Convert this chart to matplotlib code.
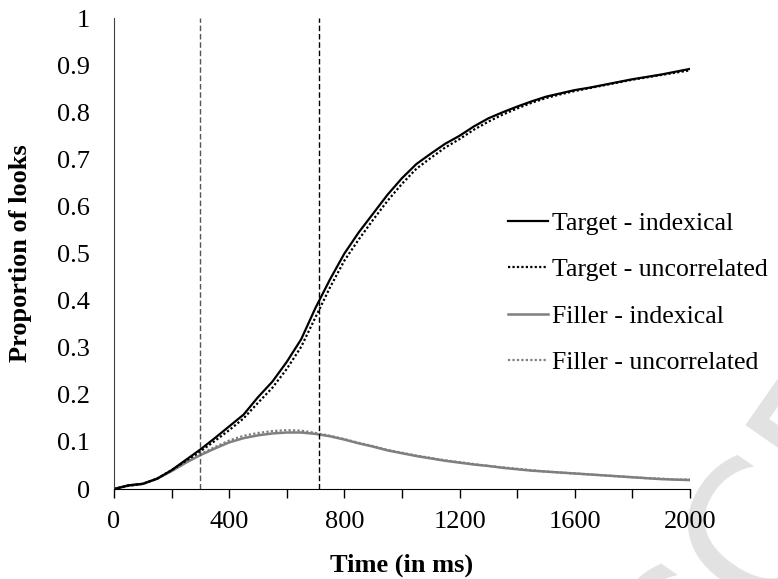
import matplotlib
matplotlib.use("Agg")
import matplotlib.pyplot as plt

# time axis (ms)
time_ms = [0, 50, 100, 150, 200, 250, 300, 350, 400, 450, 500, 550, 600, 650, 700,
           750, 800, 850, 900, 950, 1000, 1050, 1100, 1150, 1200, 1250, 1300, 1350,
           1400, 1450, 1500, 1550, 1600, 1650, 1700, 1750, 1800, 1850, 1900, 1950, 2000]

target_indexical = [0.0, 0.008, 0.011, 0.022, 0.040, 0.062, 0.084, 0.108, 0.133, 0.158,
                    0.195, 0.228, 0.270, 0.318, 0.385, 0.445, 0.500, 0.545, 0.585, 0.625,
                    0.660, 0.690, 0.712, 0.733, 0.750, 0.770, 0.787, 0.800, 0.812, 0.823,
                    0.833, 0.840, 0.847, 0.852, 0.858, 0.864, 0.870, 0.875, 0.880, 0.886, 0.892]

target_uncorrelated = [0.0, 0.007, 0.011, 0.022, 0.040, 0.060, 0.080, 0.102, 0.125, 0.150,
                       0.183, 0.215, 0.255, 0.302, 0.365, 0.428, 0.485, 0.530, 0.572, 0.612,
                       0.648, 0.680, 0.703, 0.725, 0.743, 0.763, 0.780, 0.795, 0.808, 0.820,
                       0.830, 0.838, 0.845, 0.851, 0.857, 0.863, 0.869, 0.874, 0.879, 0.884, 0.889]

filler_indexical = [0.0, 0.007, 0.011, 0.022, 0.038, 0.056, 0.072, 0.086, 0.099, 0.108,
                    0.114, 0.118, 0.120, 0.120, 0.117, 0.112, 0.105, 0.097, 0.090, 0.082,
                    0.076, 0.070, 0.065, 0.060, 0.056, 0.052, 0.049, 0.045, 0.042, 0.039,
                    0.037, 0.035, 0.033, 0.031, 0.029, 0.027, 0.025, 0.023, 0.021, 0.020, 0.019]

filler_uncorrelated = [0.0, 0.007, 0.011, 0.022, 0.039, 0.058, 0.074, 0.089, 0.103, 0.113,
                       0.119, 0.123, 0.125, 0.124, 0.119, 0.113, 0.106, 0.098, 0.091, 0.083,
                       0.077, 0.071, 0.066, 0.061, 0.057, 0.053, 0.049, 0.046, 0.043, 0.040,
                       0.037, 0.035, 0.033, 0.031, 0.029, 0.027, 0.025, 0.023, 0.022, 0.020, 0.020]

# vertical markers (ms)
markers = [300, 712]

x_ticks = [0, 200, 400, 600, 800, 1000, 1200, 1400, 1600, 1800, 2000]
x_labels = ["0", "", "400", "", "800", "", "1200", "", "1600", "", "2000"]
y_ticks = [0, 0.1, 0.2, 0.3, 0.4, 0.5, 0.6, 0.7, 0.8, 0.9, 1]
y_labels = ["0", "0.1", "0.2", "0.3", "0.4", "0.5", "0.6", "0.7", "0.8", "0.9", "1"]

plt.rcParams["font.family"] = ["Liberation Serif", "DejaVu Serif"]

fig = plt.figure(figsize=(7.78, 5.79), dpi=100)
ax = fig.add_axes([0.1465, 0.1554, 0.7404, 0.8135])
ax.patch.set_visible(False)

# watermark, behind everything
fig.text(0.802, -0.449, "ACCEPTED", rotation=55, rotation_mode="anchor",
         ha="left", va="baseline", fontsize=137, color="#e2e2e2",
         family="DejaVu Sans", zorder=-5)

grey = "#7f7f7f"
ax.plot(time_ms, filler_uncorrelated, color=grey, lw=1.6, ls=(0, (1, 1)), label="Filler - uncorrelated")
ax.plot(time_ms, filler_indexical, color=grey, lw=1.8, label="Filler - indexical")
ax.plot(time_ms, target_uncorrelated, color="black", lw=1.6, ls=(0, (1, 1)), label="Target - uncorrelated")
ax.plot(time_ms, target_indexical, color="black", lw=1.6, label="Target - indexical")

ax.axvline(markers[0], color="#555555", lw=1, ls=(0, (4, 2)))
ax.axvline(markers[1], color="black", lw=1, ls=(0, (4, 2)))

ax.set_xlim(0, 2000)
ax.set_ylim(0, 1)
ax.set_xticks(x_ticks)
ax.set_xticklabels(x_labels)
ax.set_yticks(y_ticks)
ax.set_yticklabels(y_labels)
ax.tick_params(axis="x", direction="out", length=6.5, width=1, pad=9, labelsize=19)
ax.tick_params(axis="y", length=0, pad=17, labelsize=19)

for side in ["top", "right"]:
    ax.spines[side].set_visible(False)
ax.spines["left"].set_color("#404040")
ax.spines["bottom"].set_color("black")

ax.set_xlabel("Time (in ms)", fontsize=19, fontweight="bold")
ax.set_ylabel("Proportion of looks", fontsize=19, fontweight="bold")
ax.xaxis.set_label_coords(0.5, -0.137)
ax.yaxis.set_label_coords(-0.142, 0.5)

handles, labels = ax.get_legend_handles_labels()
order = [3, 2, 1, 0]
ax.legend([handles[i] for i in order], [labels[i] for i in order],
          loc="center left", bbox_to_anchor=(0.653, 0.494), bbox_transform=fig.transFigure,
          frameon=False, fontsize=18.5, handlelength=1.55, handletextpad=0.15,
          labelspacing=0.9, borderpad=0, borderaxespad=0)

fig.savefig("out.png", dpi=100)
